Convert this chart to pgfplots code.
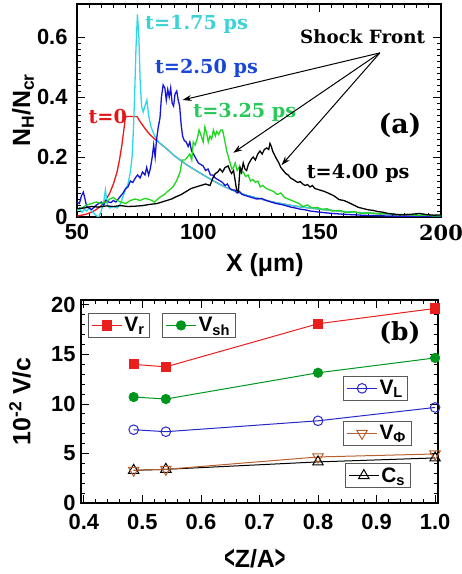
\documentclass[border=0pt]{standalone}
\usepackage{fontspec}
\setsansfont{Liberation Sans}
\newfontfamily\annserif{DejaVu Serif}
\usepackage{graphicx}
\usepackage{pgfplots}
\pgfplotsset{compat=1.18}
\usetikzlibrary{arrows.meta}

% curve colours, panel (a)
\definecolor{cR}{RGB}{235,25,25}
\definecolor{cC}{RGB}{45,215,230}
\definecolor{cB}{RGB}{20,20,215}
\definecolor{cG}{RGB}{30,215,30}
% label colours, panel (a)
\definecolor{tC}{RGB}{60,210,215}
\definecolor{tB}{RGB}{25,70,215}
\definecolor{tG}{RGB}{40,200,90}
\definecolor{tR}{RGB}{230,20,20}
% series colours, panel (b)
\definecolor{vR}{RGB}{235,30,30}
\definecolor{vG}{RGB}{0,150,30}
\definecolor{vB}{RGB}{40,40,200}
\definecolor{vP}{RGB}{185,95,45}

\newcommand\tickfont{\sffamily\bfseries\fontsize{22}{24}\selectfont}
\newcommand\labfont{\sffamily\bfseries\fontsize{25}{27}\selectfont}
\newcommand\annfont{\annserif\bfseries\fontsize{19.3}{21}\selectfont}
\newcommand\legfont{\sffamily\bfseries\fontsize{21}{23}\selectfont}
\newcommand\abr[1]{\raisebox{-1.5bp}{\scalebox{0.72}[1.3]{#1}}}

\pgfplotsset{
  panel/.style={
    scale only axis,
    axis line style={line width=1.2bp},
    tick align=inside, tick pos=both,
    major tick length=8bp, minor tick length=4bp,
    every tick/.style={line width=0.9bp, black},
    tick label style={font=\tickfont},
    label style={font=\labfont},
    /pgf/number format/assume math mode=true,
  },
  legbox/.style={
    scale only axis, hide axis,
    at={(81bp,71bp)}, anchor=south west, width=357bp, height=203bp,
    xmin=0, xmax=1, ymin=0, ymax=1,
    legend style={anchor=north west, draw=black!65, line width=1bp,
      fill=white, font=\legfont, inner xsep=3bp, inner ysep=2bp},
    legend image code/.code={
      \draw[mark repeat=2, mark phase=2, #1]
        plot coordinates {(0bp,0bp) (15bp,0bp) (30bp,0bp)};},
  },
}

\begin{document}
\begin{tikzpicture}
\path[use as bounding box] (0bp,0bp) rectangle (462bp,574bp);

% ---------------- panel (a): hydrogen density profiles ----------------
\begin{axis}[panel,
  at={(77bp,357bp)}, anchor=south west, width=364bp, height=213bp,
  xmin=50, xmax=200, ymin=0, ymax=0.71,
  xtick={50,100,150,200},
  xticklabels={50,100,150,{\annserif\bfseries\fontsize{21}{23}\selectfont 200}},
  ytick={0,0.2,0.4,0.6}, yticklabels={0,0.2,0.4,0.6},
  minor x tick num=9, minor y tick num=9,
  xticklabel style={yshift=-4bp},
  yticklabel style={xshift=-6bp},
  xlabel={X (μm)},
  ylabel={N\textsubscript{H}/N\textsubscript{cr}},
  xlabel style={at={(axis description cs:0.516,-0.225)}, anchor=center},
  ylabel style={at={(axis description cs:-0.148,0.5)}, anchor=center, rotate=0},
  every axis plot/.append style={line width=1.3bp},
]
% t = 0
\addplot[cR] coordinates {
(50,0.003)(52,0.006)(54,0.010)(56,0.016)(58,0.025)(60,0.038)(62,0.058)
(63.5,0.08)(65,0.11)(66.5,0.15)(67.5,0.19)(68.5,0.24)(69.3,0.29)(69.9,0.33)
(70.3,0.335)(74.7,0.335)(76,0.318)(78,0.295)(80,0.275)(82,0.26)(84,0.247)
(86,0.234)(88,0.22)(90,0.205)(95,0.175)(100,0.15)(105,0.126)(110,0.104)
(115,0.086)(120,0.072)(130,0.051)(140,0.036)(150,0.026)(160,0.018)
(170,0.013)(180,0.009)(190,0.006)(200,0.004)};
% t = 1.75 ps
\addplot[cC] coordinates {
(50,0.02)(51,0.03)(52,0.015)(53,0.025)(54,0.02)(55,0.03)(56,0.02)(57,0.012)
(58,0.004)(59,0.0)(60,0.02)(61,0.05)(61.7,0.09)(62.5,0.04)(63.5,0.03)
(65,0.035)(66.5,0.03)(68,0.045)(69,0.07)(70,0.09)(71,0.11)(72,0.15)
(72.7,0.2)(73.3,0.3)(73.8,0.42)(74.3,0.56)(74.9,0.675)(75.5,0.6)(76,0.46)
(76.6,0.37)(77.3,0.35)(78,0.37)(78.8,0.39)(79.5,0.34)(80.5,0.3)(82,0.27)
(83,0.258)(84,0.247)(86,0.234)(88,0.22)(90,0.205)(95,0.175)(100,0.15)
(105,0.126)(110,0.104)(115,0.086)(120,0.072)(130,0.051)(140,0.036)
(150,0.026)(160,0.018)(170,0.013)(180,0.009)(190,0.006)(200,0.004)};
% t = 2.50 ps
\addplot[cB] coordinates {
(50,0.05)(51,0.045)(51.8,0.07)(52.6,0.083)(53.3,0.06)(54,0.035)(55,0.03)
(56,0.025)(57,0.032)(58,0.04)(59,0.045)(60,0.05)(61,0.04)(62,0.055)(63,0.05)
(64,0.048)(65,0.055)(66,0.05)(67,0.06)(68,0.07)(69,0.08)(70,0.095)(71,0.1)
(72,0.12)(73,0.115)(74,0.13)(75,0.14)(76,0.13)(77,0.15)(78,0.14)(78.7,0.165)
(79.5,0.14)(80.2,0.16)(81,0.2)(81.6,0.24)(82.2,0.2)(82.8,0.26)(83.5,0.3)
(84.2,0.33)(84.8,0.4)(85.5,0.44)(86.2,0.43)(86.8,0.39)(87.4,0.425)(88,0.4)
(88.6,0.43)(89.2,0.38)(89.8,0.37)(90.4,0.41)(91.1,0.42)(91.7,0.39)
(92.3,0.37)(92.9,0.31)(93.5,0.27)(94.2,0.255)(95,0.25)(95.8,0.235)
(96.5,0.25)(97.2,0.22)(98,0.21)(99,0.195)(100,0.18)(101,0.175)(102,0.17)
(103,0.155)(104,0.16)(105,0.14)(106,0.14)(107,0.13)(108,0.125)(109,0.12)
(110,0.115)(111,0.105)(112,0.11)(113,0.095)(114,0.09)(115,0.09)(116,0.08)
(117,0.085)(118,0.075)(120,0.07)(122,0.065)(124,0.06)(126,0.062)(128,0.055)
(130,0.05)(132,0.045)(134,0.042)(136,0.038)(138,0.033)(140,0.03)(142,0.026)
(144,0.024)(146,0.02)(148,0.018)(150,0.016)(155,0.012)(160,0.009)
(165,0.007)(170,0.005)(180,0.003)(190,0.002)(200,0.001)};
% t = 3.25 ps
\addplot[cG] coordinates {
(50,0.025)(52,0.03)(54,0.04)(56,0.045)(58,0.05)(60,0.045)(62,0.05)
(63.5,0.06)(65,0.065)(66.5,0.055)(68,0.05)(70,0.045)(72,0.055)(74,0.06)
(76,0.055)(78,0.062)(80,0.058)(82,0.05)(84,0.065)(86,0.075)(88,0.09)
(89.5,0.1)(91,0.12)(92.5,0.15)(93.3,0.19)(94.5,0.19)(95.5,0.2)(96.5,0.21)
(97.3,0.19)(97.9,0.25)(98.7,0.24)(99.5,0.26)(100.3,0.29)(101,0.275)
(102,0.25)(102.7,0.3)(103.4,0.28)(104.1,0.25)(104.8,0.27)(105.5,0.26)
(106.2,0.29)(107,0.27)(107.6,0.285)(108.4,0.275)(109.2,0.29)(110,0.29)
(110.5,0.27)(111,0.25)(111.7,0.22)(112.4,0.2)(113.1,0.18)(113.8,0.16)
(114.5,0.165)(115.2,0.18)(116,0.155)(116.8,0.165)(117.6,0.145)(118.5,0.15)
(119.5,0.135)(120.5,0.14)(121.5,0.12)(122.5,0.125)(123.5,0.115)(124.5,0.12)
(125.5,0.1)(126.5,0.105)(128,0.095)(129.5,0.09)(131,0.085)(132.5,0.075)
(134,0.08)(135.5,0.065)(137,0.06)(138.5,0.055)(140,0.05)(141.5,0.045)
(143,0.035)(145,0.04)(147,0.03)(149,0.032)(151,0.025)(153,0.028)(155,0.02)
(158,0.022)(161,0.015)(164,0.018)(167,0.012)(170,0.014)(174,0.01)
(178,0.012)(182,0.007)(186,0.009)(190,0.005)(194,0.007)(197,0.003)
(200,0.004)};
% t = 4.00 ps
\addplot[black] coordinates {
(50,0.028)(53,0.03)(56,0.035)(59,0.033)(62,0.037)(65,0.035)(68,0.038)
(71,0.035)(74,0.036)(77,0.038)(80,0.042)(83,0.045)(85,0.05)(87,0.055)
(89,0.06)(91,0.068)(93,0.075)(95,0.085)(97,0.095)(99,0.1)(101,0.105)
(103,0.11)(104.8,0.105)(106,0.13)(107,0.145)(108,0.15)(108.9,0.16)
(110,0.15)(111,0.165)(112.3,0.17)(113,0.155)(113.7,0.145)(114.5,0.155)
(115.2,0.12)(115.8,0.09)(116.5,0.085)(117.2,0.165)(117.8,0.15)(118.5,0.18)
(119.2,0.16)(119.9,0.155)(120.6,0.175)(121.3,0.185)(122,0.195)(122.6,0.2)
(123.5,0.19)(124.5,0.21)(125.4,0.22)(126.3,0.21)(127.2,0.225)(128.2,0.23)
(129,0.225)(129.5,0.245)(130.1,0.235)(130.6,0.22)(131.2,0.21)(131.8,0.2)
(132.5,0.19)(133.2,0.18)(134,0.165)(135,0.155)(136,0.145)(137,0.14)
(138,0.13)(139.1,0.125)(140,0.12)(141,0.115)(142,0.118)(143,0.11)
(144,0.105)(145,0.108)(146,0.1)(147,0.105)(148,0.095)(150,0.09)(152,0.085)
(154,0.078)(156,0.07)(158,0.058)(160,0.055)(162,0.048)(164,0.04)
(166,0.032)(168,0.028)(170,0.024)(172,0.022)(174,0.018)(176,0.016)
(178,0.012)(180,0.01)(183,0.007)(186,0.008)(189,0.01)(191,0.012)
(194,0.008)(197,0.006)(200,0.007)};

\node[tC, font=\annfont, anchor=base west, inner sep=0] at (axis cs:78,0.625) {t=1.75 ps};
\node[tB, font=\annfont, anchor=base west, inner sep=0] at (axis cs:82.1,0.479) {t=2.50 ps};
\node[tR, font=\annfont, anchor=base west, inner sep=0] at (axis cs:54.7,0.312) {t=0};
\node[tG, font=\annfont, anchor=base west, inner sep=0] at (axis cs:97.9,0.332) {t=3.25 ps};
\node[black, font=\annfont, anchor=base west, inner sep=0] at (axis cs:144.6,0.129) {t=4.00 ps};
\node[black, font=\annserif\bfseries\fontsize{18.3}{20}\selectfont, anchor=base west, inner sep=0] at (axis cs:141.9,0.579) {Shock Front};
\node[black, font=\annserif\bfseries\fontsize{27}{29}\selectfont] at (axis cs:183.1,0.307) {(a)};
\draw[line width=1bp, -{Stealth[length=9bp,width=6bp]}]
  (axis cs:174.8,0.547) -- (axis cs:93.5,0.39);
\draw[line width=1bp, -{Stealth[length=9bp,width=6bp]}]
  (axis cs:174.8,0.547) -- (axis cs:114.4,0.214);
\draw[line width=1bp, -{Stealth[length=9bp,width=6bp]}]
  (axis cs:174.8,0.547) -- (axis cs:134.3,0.173);
\end{axis}

% ---------------- panel (b): velocities against Z/A ----------------
\begin{axis}[panel,
  at={(81bp,71bp)}, anchor=south west, width=357bp, height=203bp,
  xmin=0.395, xmax=1.005, ymin=0, ymax=20.5,
  xtick={0.4,0.5,0.6,0.7,0.8,0.9,1.0},
  xticklabels={0.4,0.5,0.6,0.7,0.8,0.9,1.0},
  ytick={0,5,10,15,20}, yticklabels={0,5,10,15,20},
  minor x tick num=4, minor y tick num=4,
  xticklabel style={yshift=-8bp},
  yticklabel style={xshift=-2bp},
  xlabel={\abr{<}Z/A\abr{>}},
  ylabel={10\textsuperscript{-2} V/c},
  xlabel style={at={(axis description cs:0.487,-0.275)}, anchor=center},
  ylabel style={at={(axis description cs:-0.171,0.5)}, anchor=center, rotate=0},
  clip=false,
  every axis plot/.append style={line width=1bp},
]
\addplot[vR, mark=square*, mark size=4.6bp, mark options={fill=vR}]
  coordinates {(0.485,14.0)(0.54,13.75)(0.8,18.1)(1.0,19.65)};
\addplot[vG, mark=*, mark size=4.6bp, mark options={fill=vG}]
  coordinates {(0.485,10.7)(0.54,10.5)(0.8,13.15)(1.0,14.65)};
\addplot[vB, mark=o, mark size=4.8bp, mark options={fill=white}]
  coordinates {(0.485,7.4)(0.54,7.2)(0.8,8.3)(1.0,9.65)};
\addplot[black, mark=triangle, mark size=6bp, mark options={fill=white}]
  coordinates {(0.485,3.3)(0.54,3.4)(0.8,4.15)(1.0,4.55)};
\addplot[vP, mark=triangle, mark size=6bp, mark options={fill=white, rotate=180}]
  coordinates {(0.485,3.3)(0.54,3.4)(0.8,4.65)(1.0,4.95)};
\node[black, font=\annserif\bfseries\fontsize{25}{27}\selectfont] at (axis cs:0.94,17.2) {(b)};
\end{axis}

% legend boxes of panel (b)
\begin{axis}[legbox, legend style={at={(0.0196,0.936)}}]
\addlegendimage{vR, line width=1bp, mark=square*, mark size=4.6bp, mark options={fill=vR}}
\addlegendentry{V\textsubscript{r}}
\end{axis}
\begin{axis}[legbox, legend style={at={(0.227,0.936)}}]
\addlegendimage{vG, line width=1bp, mark=*, mark size=4.6bp, mark options={fill=vG}}
\addlegendentry{V\textsubscript{sh}}
\end{axis}
\begin{axis}[legbox, legend style={at={(0.734,0.626)}}]
\addlegendimage{vB, line width=1bp, mark=o, mark size=4.8bp, mark options={fill=white}}
\addlegendentry{V\textsubscript{L}}
\end{axis}
\begin{axis}[legbox, legend style={at={(0.734,0.404)}}]
\addlegendimage{vP, line width=1bp, mark=triangle, mark size=6bp, mark options={fill=white, rotate=180}}
\addlegendentry{V\textsubscript{Φ}}
\end{axis}
\begin{axis}[legbox, legend style={at={(0.739,0.197)}}]
\addlegendimage{black, line width=1bp, mark=triangle, mark size=6bp, mark options={fill=white}}
\addlegendentry{C\textsubscript{s}}
\end{axis}
\end{tikzpicture}
\end{document}
